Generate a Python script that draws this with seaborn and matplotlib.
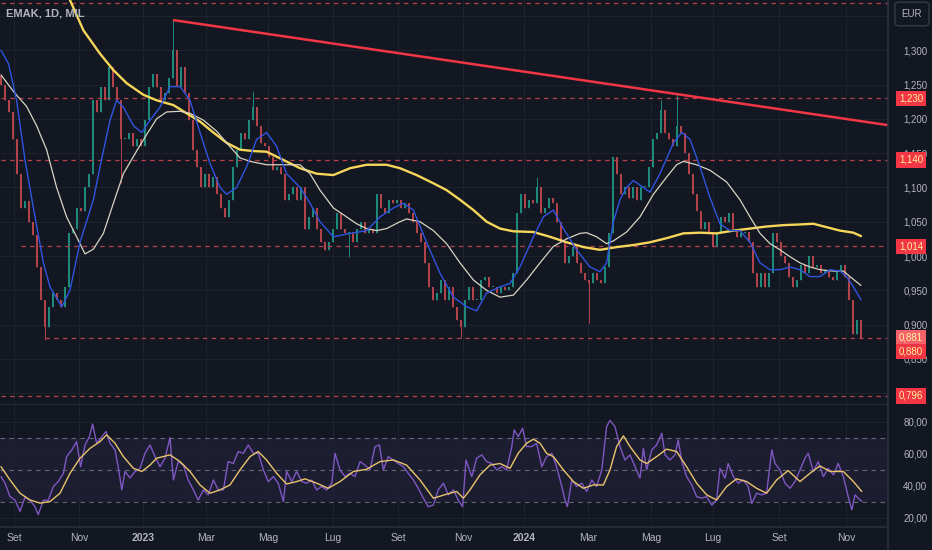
import matplotlib
matplotlib.use("Agg")
import matplotlib.pyplot as plt
import seaborn as sns
import numpy as np

sns.set_style("dark")
plt.rcParams["font.family"] = ["Liberation Sans Narrow", "Liberation Sans", "DejaVu Sans"]

# =========================
# COLOURS
# =========================
BG = "#131722"
GRID = "#1e222d"
BORDER = "#2a2e39"
TXT = "#b2b5be"
UP = "#1d8a7b"
DOWN = "#b3434b"
TAG = "#f23645"
TAG_TXT = "#fff59d"

# =========================
# DATA
# =========================
title = "EMAK, 1D, MIL"
first_open = 1.262

closes = [
    1.25, 1.227, 1.21, 1.17, 1.12, 1.07, 1.08, 1.05, 1.03, 0.984,
    0.936, 0.897, 0.926, 0.946, 0.936, 0.926, 0.955, 1.033, 1.04, 1.07,
    1.065, 1.10, 1.12, 1.227, 1.21, 1.247, 1.227, 1.276, 1.247, 1.227,
    1.17, 1.17, 1.18, 1.16, 1.17, 1.16, 1.198, 1.247, 1.266, 1.247,
    1.227, 1.237, 1.26, 1.30, 1.247, 1.276, 1.237, 1.198, 1.155, 1.13,
    1.10, 1.12, 1.10, 1.115, 1.09, 1.07, 1.057, 1.082, 1.13, 1.155,
    1.18, 1.17, 1.198, 1.217, 1.19, 1.165, 1.16, 1.145, 1.125, 1.13,
    1.12, 1.082, 1.09, 1.10, 1.082, 1.10, 1.04, 1.057,
    1.07, 1.04, 1.02, 1.009, 1.02, 1.04, 1.062, 1.04, 1.033, 1.035,
    1.02, 1.04, 1.05, 1.033, 1.04, 1.033, 1.09, 1.07, 1.062, 1.082,
    1.077, 1.082, 1.07, 1.077, 1.062, 1.05, 1.033, 1.02, 0.99, 0.955,
    0.936, 0.946, 0.965, 0.936, 0.955, 0.926, 0.907, 0.897, 0.936, 0.955,
    0.936, 0.936, 0.965, 0.97, 0.955, 0.955, 0.946, 0.955, 0.95, 0.955,
    0.975, 1.062, 1.09, 1.07, 1.082, 1.077, 1.10, 1.062, 1.07, 1.085,
    1.077, 1.05, 1.02, 0.99, 1.0, 1.013, 0.99, 0.975, 0.965, 0.96,
    0.975, 0.965, 0.96, 0.984,
    1.033, 1.145, 1.12, 1.09, 1.10, 1.085, 1.10, 1.082, 1.10, 1.10,
    1.13, 1.17, 1.18, 1.213, 1.18, 1.17, 1.16, 1.19, 1.18, 1.15,
    1.12, 1.09, 1.065, 1.04, 1.05, 1.033, 1.013, 1.033, 1.057, 1.05,
    1.062, 1.04, 1.028, 1.033, 1.035, 1.02, 0.975, 0.955, 0.975, 0.955,
    0.975, 1.033, 1.02, 1.0, 0.99, 0.97, 0.955, 0.965, 0.987, 0.975,
    1.0, 0.984, 0.987, 0.975, 0.98, 0.97, 0.965, 0.98, 0.987, 0.97,
    0.936, 0.887, 0.907, 0.880,
]

# long wicks (candle index -> extreme)
wick_highs = {43: 1.344, 63: 1.24, 134: 1.115, 165: 1.228, 169: 1.236}
wick_lows = {11: 0.878, 30: 1.106, 87: 0.998, 115: 0.880, 147: 0.902}

# moving averages: (candle index, value)
ma_fast = [(0, 1.30), (1.9, 1.28), (3.9, 1.227), (6, 1.14), (8.1, 1.07), (10.6, 0.99),
           (12.25, 0.955), (15.2, 0.926), (17.25, 0.95), (19.75, 1.02), (23.1, 1.082),
           (24.75, 1.13), (27.25, 1.198), (28.9, 1.227), (30.6, 1.217), (33.1, 1.19),
           (35.2, 1.18), (37.25, 1.198), (39.75, 1.217), (42.25, 1.247), (44.75, 1.247),
           (47.25, 1.227), (49.75, 1.18), (52.25, 1.135), (54.75, 1.10), (56.4, 1.09),
           (58.9, 1.10), (61.4, 1.13), (63.9, 1.17), (66.4, 1.18), (68.9, 1.16),
           (71.4, 1.12), (74.75, 1.10), (77.25, 1.077), (79.75, 1.05), (83.1, 1.028),
           (87.25, 1.033), (91.4, 1.037), (94.75, 1.057), (98.1, 1.07), (100.6, 1.077),
           (103.1, 1.067), (106.4, 1.02), (109.75, 0.975), (113.1, 0.94), (116.4, 0.926),
           (118.9, 0.92), (121.4, 0.946), (124.75, 0.955), (127.25, 0.96), (129.75, 0.984),
           (133.1, 1.028), (135.6, 1.057), (138.1, 1.067), (140.6, 1.04), (143.9, 1.009),
           (147.25, 0.984), (149.75, 0.977), (151.4, 0.99), (153.1, 1.05), (154.75, 1.082),
           (156.4, 1.10), (158.1, 1.11), (160.6, 1.10), (162.25, 1.093), (164.75, 1.12),
           (168.1, 1.165), (170.2, 1.18), (172.25, 1.17), (174.75, 1.13), (177.25, 1.085),
           (179.75, 1.047), (182.25, 1.037), (184.75, 1.037), (187.25, 1.02), (189.75, 0.99),
           (192.25, 0.98), (194.75, 0.98), (197.25, 0.984), (199.75, 0.98), (202.25, 0.97),
           (204.75, 0.97), (207.25, 0.98), (209.75, 0.978), (211.4, 0.97), (213.1, 0.955),
           (215, 0.936)]

ma_slow = [(0, 1.264), (3.1, 1.24), (6.4, 1.218), (8.9, 1.19), (11.4, 1.155), (13.9, 1.10),
           (16.4, 1.057), (18.9, 1.028), (21.0, 1.003), (23.1, 1.01), (25.6, 1.033),
           (28.1, 1.077), (30.6, 1.12), (33.9, 1.153), (36.4, 1.177), (38.9, 1.20),
           (41.4, 1.21), (44.75, 1.211), (47.25, 1.208), (50.6, 1.198), (53.9, 1.182),
           (56.4, 1.165), (59.75, 1.143), (62.25, 1.138), (66.4, 1.133), (70.6, 1.133),
           (74.75, 1.133), (77.25, 1.12), (79.75, 1.096), (83.1, 1.07), (86.4, 1.057),
           (88.9, 1.047), (91.4, 1.04), (93.9, 1.037), (96.4, 1.04), (99.75, 1.05),
           (101.4, 1.054), (104.75, 1.05), (108.1, 1.037), (111.4, 1.018), (114.75, 0.99),
           (118.1, 0.965), (121.4, 0.95), (124.75, 0.94), (128.1, 0.943), (131.4, 0.965),
           (134.75, 0.99), (138.1, 1.014), (141.4, 1.025), (144.75, 1.033), (146.4, 1.034),
           (148.9, 1.028), (151.4, 1.018), (153.1, 1.022), (156.4, 1.035), (159.75, 1.057),
           (163.1, 1.09), (166.4, 1.115), (168.9, 1.133), (170.6, 1.138), (173.9, 1.133),
           (177.25, 1.125), (181.4, 1.108), (184.75, 1.082), (187.25, 1.057), (189.75, 1.033),
           (192.25, 1.018), (194.75, 1.009), (197.25, 0.999), (199.75, 0.99), (202.25, 0.984),
           (204.75, 0.98), (208.1, 0.978), (210.6, 0.978), (212.25, 0.97), (215, 0.957)]

ma_long = [(16, 1.383), (17.25, 1.373), (20.6, 1.329), (24.75, 1.295), (28.1, 1.271),
           (31.4, 1.252), (35.6, 1.235), (38.9, 1.227), (43.1, 1.22), (46.4, 1.208),
           (49.75, 1.196), (53.1, 1.18), (56.4, 1.165), (59.75, 1.155), (63.1, 1.153),
           (66.4, 1.152), (70.6, 1.14), (74.75, 1.128), (78.9, 1.12), (83.1, 1.118),
           (87.25, 1.128), (91.4, 1.133), (96.4, 1.133), (99.75, 1.128), (103.9, 1.118),
           (108.1, 1.106), (111.4, 1.096), (114.75, 1.082), (118.1, 1.067), (121.4, 1.05),
           (124.75, 1.04), (128.1, 1.036), (133.1, 1.035), (137.25, 1.028), (141.4, 1.02),
           (145.6, 1.013), (149.75, 1.009), (153.9, 1.013), (158.1, 1.016), (162.25, 1.02),
           (166.4, 1.026), (170.6, 1.033), (174.75, 1.034), (178.9, 1.033), (183.1, 1.037),
           (187.25, 1.04), (191.4, 1.043), (195.6, 1.045), (199.75, 1.046), (203.1, 1.047),
           (206.4, 1.042), (209.75, 1.037), (213.1, 1.034), (215, 1.029)]

# RSI and its moving average: (candle index, value)
rsi = [(0, 45.8), (1.0, 41.7), (2.25, 33.3), (3.5, 31.2), (4.75, 24), (6.0, 33), (7.25, 31),
       (8.5, 27), (9.3, 22), (10.6, 31), (11.8, 31), (13.1, 39.6), (14.3, 42.7), (15.6, 47.9),
       (16.4, 58.3), (17.7, 62.5), (18.9, 67.7), (19.9, 52), (21.0, 65.6), (22.1, 70.8),
       (22.9, 78.7), (23.9, 66.7), (25.2, 70.8), (26.25, 74), (27.25, 66.7), (28.5, 62.5),
       (29.3, 52), (30.2, 37.5), (31.0, 49), (32.25, 45), (33.5, 49), (34.75, 51),
       (36.0, 60.4), (37.25, 65.6), (38.5, 58.3), (39.75, 52), (41.0, 57.3), (42.25, 70.2),
       (43.1, 43.7), (44.3, 55.2), (45.6, 53), (46.8, 43.7), (48.1, 37.5), (49.3, 31.2),
       (50.6, 37.5), (51.8, 34.4), (53.1, 43.7), (54.3, 37.5), (55.6, 37.5), (56.8, 55.2),
       (58.1, 54), (59.3, 61.5), (60.6, 60.4), (61.8, 65.6), (63.1, 60.4), (64.3, 60.4),
       (65.6, 50), (66.8, 42.7), (68.1, 45.8), (69.3, 41.7), (70.6, 30.2), (71.4, 49),
       (72.7, 42.7), (73.9, 49), (75.2, 42.7), (76.4, 41.7), (77.7, 43.7), (78.9, 37.5),
       (80.2, 39.6), (81.4, 37.5), (82.7, 41.7), (83.5, 60.4), (84.75, 50), (86.0, 45.8),
       (87.25, 47.9), (88.5, 45.8), (89.75, 55.2), (91.0, 53), (92.25, 50), (93.5, 64.6),
       (94.6, 65.6), (95.6, 50), (96.8, 58.3), (98.1, 56.2), (99.3, 54), (100.6, 52),
       (101.8, 47.9), (103.1, 43.7), (104.3, 38.5), (105.6, 32.3), (106.8, 27), (108.1, 28),
       (109.3, 37.5), (110.6, 41.7), (111.8, 34.4), (113.1, 37.5), (114.3, 31.2), (115.4, 27),
       (116.25, 56.2), (117.7, 45.8), (118.9, 57.3), (120.2, 59.4), (121.4, 55.2), (122.7, 54),
       (123.9, 50), (125.2, 52), (126.4, 50), (127.7, 64.6), (128.3, 75), (129.3, 70.8),
       (130.4, 76), (131.4, 64.6), (132.7, 64.6), (133.9, 66.7), (135.2, 52), (136.4, 58.3),
       (137.7, 60.4), (138.9, 52), (140.2, 39.6), (141.0, 31.2), (141.6, 27), (142.7, 43.7),
       (143.9, 39.6), (145.2, 41.7), (146.4, 36.5), (147.7, 43.7), (148.9, 39.6), (150.2, 50),
       (151.4, 77), (152.25, 81), (153.5, 77), (154.75, 64.6), (156.0, 56.2), (157.25, 59.4),
       (158.5, 52), (159.75, 44.8), (160.6, 63.5), (161.4, 50), (162.7, 62.5), (163.9, 65.6),
       (165.2, 72.9), (166.0, 59.4), (167.25, 56.2), (168.5, 59.4), (169.3, 68.7), (170.2, 55.2),
       (171.4, 45.8), (172.7, 40.6), (173.9, 33.3), (175.2, 32.3), (176.4, 33.3), (177.7, 28),
       (178.9, 31.2), (179.75, 51), (181.0, 44.8), (181.8, 54), (183.1, 45.8), (184.3, 41.7),
       (185.6, 43.7), (186.8, 39.6), (187.7, 29), (188.9, 35.4), (190.2, 34.4), (191.4, 35.4),
       (192.7, 62.5), (193.5, 54), (194.75, 50), (196.0, 41.7), (197.25, 38.5), (198.5, 42.7),
       (199.75, 50), (201.0, 57.3), (201.8, 60.4), (203.1, 49), (204.3, 55.2), (205.6, 45.8),
       (206.8, 51), (208.1, 46.9), (209.3, 54), (210.6, 45.8), (211.8, 33.3), (212.7, 25),
       (213.5, 34.4), (214.3, 32.3), (215.2, 30.2)]

rsi_ma = [(0, 52), (2.25, 43.7), (4.75, 35.4), (7.25, 31.2), (9.75, 29.2), (12.25, 30.2),
          (14.75, 35.4), (17.25, 47.9), (19.75, 57.3), (22.25, 63.5), (24.75, 67.7), (26.4, 71.9),
          (28.5, 66.7), (30.6, 58.3), (33.1, 51), (35.2, 49), (37.25, 53), (38.9, 57.3),
          (42.25, 59.4), (44.75, 55.2), (47.25, 49), (49.75, 40.6), (52.25, 35.4), (54.75, 37.5),
          (57.25, 40.6), (59.75, 50), (62.25, 58.3), (64.3, 61.5), (66.4, 56.2), (68.9, 47.9),
          (71.4, 41.2), (73.9, 42.7), (76.0, 44.4), (78.9, 41.7), (81.8, 38.5), (84.75, 42.7),
          (88.1, 49), (91.4, 50.4), (94.75, 55.2), (98.1, 56.2), (101.4, 53), (104.75, 43.7),
          (108.1, 32.3), (111.4, 34.8), (113.9, 36.5), (115.6, 32.3), (117.25, 37.5),
          (119.75, 46.9), (122.25, 53), (124.75, 54), (127.25, 51), (129.3, 60.4), (131.4, 66.7),
          (133.1, 69.2), (134.75, 66.7), (136.4, 60.4), (138.1, 58.3), (140.6, 50), (143.1, 42.7),
          (145.6, 38.5), (148.1, 40.6), (150.6, 40.6), (152.25, 50), (153.9, 64.6), (155.6, 71.3),
          (157.25, 64.6), (159.75, 56.2), (161.4, 54), (163.9, 58.3), (166.4, 63), (168.9, 61.5),
          (171.4, 52), (173.9, 41.7), (176.4, 34.4), (178.9, 31.2), (181.4, 39.6), (183.9, 44.4),
          (186.4, 42.7), (188.9, 38.5), (191.4, 35.4), (193.9, 43.7), (196.8, 49.6),
          (199.75, 42.7), (202.25, 47.9), (204.75, 52.5), (207.25, 49), (210.6, 49),
          (213.1, 42.7), (215.2, 36.5)]

# horizontal levels: price, first candle index where the line starts
levels = [1.369, 1.230, 1.140, 1.014, 0.881, 0.796]
level_start = [0, 0, 0, 5, 11, 0]

# trendline anchors (candle index, price)
trend_a = (43, 1.344)
trend_b = (169, 1.236)

# price tags on the right scale
tag_prices = [1.230, 1.140, 1.014, 0.881, 0.8605, 0.796]
tag_texts = ["1,230", "1,140", "1,014", "0,881", "0,880", "0,796"]
tag_colors = [TAG, TAG, TAG, "#f7616b", TAG, TAG]

price_ticks = [0.80, 0.85, 0.90, 0.95, 1.00, 1.05, 1.10, 1.15, 1.20, 1.25, 1.30, 1.35]
hidden_ticks = [0.80, 1.35]   # covered by the 0,796 tag and the EUR box
rsi_ticks = [20, 40, 60, 80]
month_idx = [3.25, 19.5, 35.5, 51.25, 66.75, 83, 99.25, 115.5, 130.75, 146.75, 162.5, 178, 194.5, 211.25]
month_lbl = ["Set", "Nov", "2023", "Mar", "Mag", "Lug", "Set", "Nov", "2024", "Mar", "Mag", "Lug", "Set", "Nov"]

# =========================
# FIGURE
# =========================
W, H = 932, 550
fig = plt.figure(figsize=(W / 100, H / 100), dpi=100, facecolor=BG)
ax = fig.add_axes([0, 1 - 405 / H, 888 / W, 405 / H])
ax2 = fig.add_axes([0, 1 - 526.5 / H, 888 / W, 121.5 / H], sharex=ax)

x_right = 221.75
for a in (ax, ax2):
    a.set_facecolor(BG)
    a.grid(True, color=GRID, lw=0.8)
    a.yaxis.tick_right()
    a.tick_params(axis="y", length=0, pad=11, labelsize=7, colors=TXT)
    a.tick_params(axis="x", length=0)
    for s in ("left", "top"):
        a.spines[s].set_visible(False)
    for s in ("right", "bottom"):
        a.spines[s].set_color(BORDER)
        a.spines[s].set_linewidth(1.2)
    a.set_axisbelow(True)

# =========================
# CANDLES
# =========================
n = len(closes)
idx = np.arange(n)
cl = np.array(closes)
op = np.array([first_open] + closes[:-1])
hi = np.maximum(op, cl)
lo = np.minimum(op, cl)
for k, v in wick_highs.items():
    hi[k] = max(hi[k], v)
for k, v in wick_lows.items():
    lo[k] = min(lo[k], v)
cols = np.where(cl >= op, UP, DOWN)
ax.vlines(idx, lo, hi, colors=cols, lw=0.7, zorder=2)
ax.bar(idx, np.maximum(np.abs(cl - op), 0.0015), bottom=np.minimum(op, cl),
       width=0.72, color=cols, lw=0, zorder=2)

# =========================
# LEVELS + TRENDLINE
# =========================
for lv, st in zip(levels, level_start):
    ax.hlines(lv, st, x_right, colors="#b8404d", lw=0.9, linestyles=(0, (3.5, 3.5)), zorder=3)

slope = (trend_b[1] - trend_a[1]) / (trend_b[0] - trend_a[0])
ax.plot([trend_a[0], x_right], [trend_a[1], trend_a[1] + slope * (x_right - trend_a[0])],
        color="#f23645", lw=1.8, zorder=6, solid_capstyle="butt")

# =========================
# MOVING AVERAGES
# =========================
for pts, c, w in [(ma_long, "#f5d65a", 1.7), (ma_slow, "#d8d4c2", 0.9), (ma_fast, "#2f55e0", 1.0)]:
    xs, ys = zip(*pts)
    sns.lineplot(x=list(xs), y=list(ys), ax=ax, color=c, linewidth=w,
                 estimator=None, sort=False, zorder=5)

ax.set_xlim(-0.25, x_right)
ax.set_ylim(0.7828, 1.3732)
ax.set_yticks(price_ticks)
ax.set_yticklabels(["" if t in hidden_ticks else f"{t:.3f}".replace(".", ",") for t in price_ticks])
ax.set_xlabel("")
ax.set_ylabel("")
ax.tick_params(axis="x", labelbottom=False)

for p, t, c in zip(tag_prices, tag_texts, tag_colors):
    ax.text(1 + 11 / 888, p, t, transform=ax.get_yaxis_transform(), ha="left", va="center",
            fontsize=7, color=TAG_TXT, clip_on=False, zorder=10,
            bbox=dict(boxstyle="square,pad=0.28", fc=c, ec="none"))

# =========================
# RSI PANE
# =========================
ax2.axhspan(30, 70, color="#7e57c2", alpha=0.1, lw=0, zorder=0.5)
for lv in (70, 50, 30):
    ax2.axhline(lv, color="#787b86", lw=0.8, ls=(0, (4, 4)), alpha=0.8, zorder=1)
rx, ry = zip(*rsi)
sns.lineplot(x=list(rx), y=list(ry), ax=ax2, color="#7e57c2", linewidth=1.0,
             estimator=None, sort=False, zorder=3)
mx, my = zip(*rsi_ma)
sns.lineplot(x=list(mx), y=list(my), ax=ax2, color="#e9c46a", linewidth=1.0,
             estimator=None, sort=False, zorder=4)
ax2.set_ylim(14.6, 90.6)
ax2.set_yticks(rsi_ticks)
ax2.set_yticklabels([f"{t},00" for t in rsi_ticks])
ax2.set_xticks(month_idx)
ax2.set_xticklabels(month_lbl)
ax2.tick_params(axis="x", pad=5, labelsize=7.5, colors=TXT)
for lab in ax2.get_xticklabels():
    if lab.get_text().startswith("20"):
        lab.set_fontweight("bold")
ax2.set_xlabel("")
ax2.set_ylabel("")
ax2.set_xlim(-0.25, x_right)

# =========================
# HEADER BITS
# =========================
fig.add_artist(plt.Line2D([888 / W, 888 / W], [0, 1], transform=fig.transFigure,
                          color=BORDER, lw=1.2))
fig.text(6 / W, 1 - 14 / H, title, color=TXT, fontsize=8, fontweight="bold", va="center")
fig.text(912 / W, 1 - 14 / H, "EUR", color=TXT, fontsize=7, ha="center", va="center",
         bbox=dict(boxstyle="round,pad=0.7,rounding_size=0.4", fc=BG, ec="#363a45", lw=1))

fig.savefig("out.png", dpi=100, facecolor=BG)
print("saved out.png")
